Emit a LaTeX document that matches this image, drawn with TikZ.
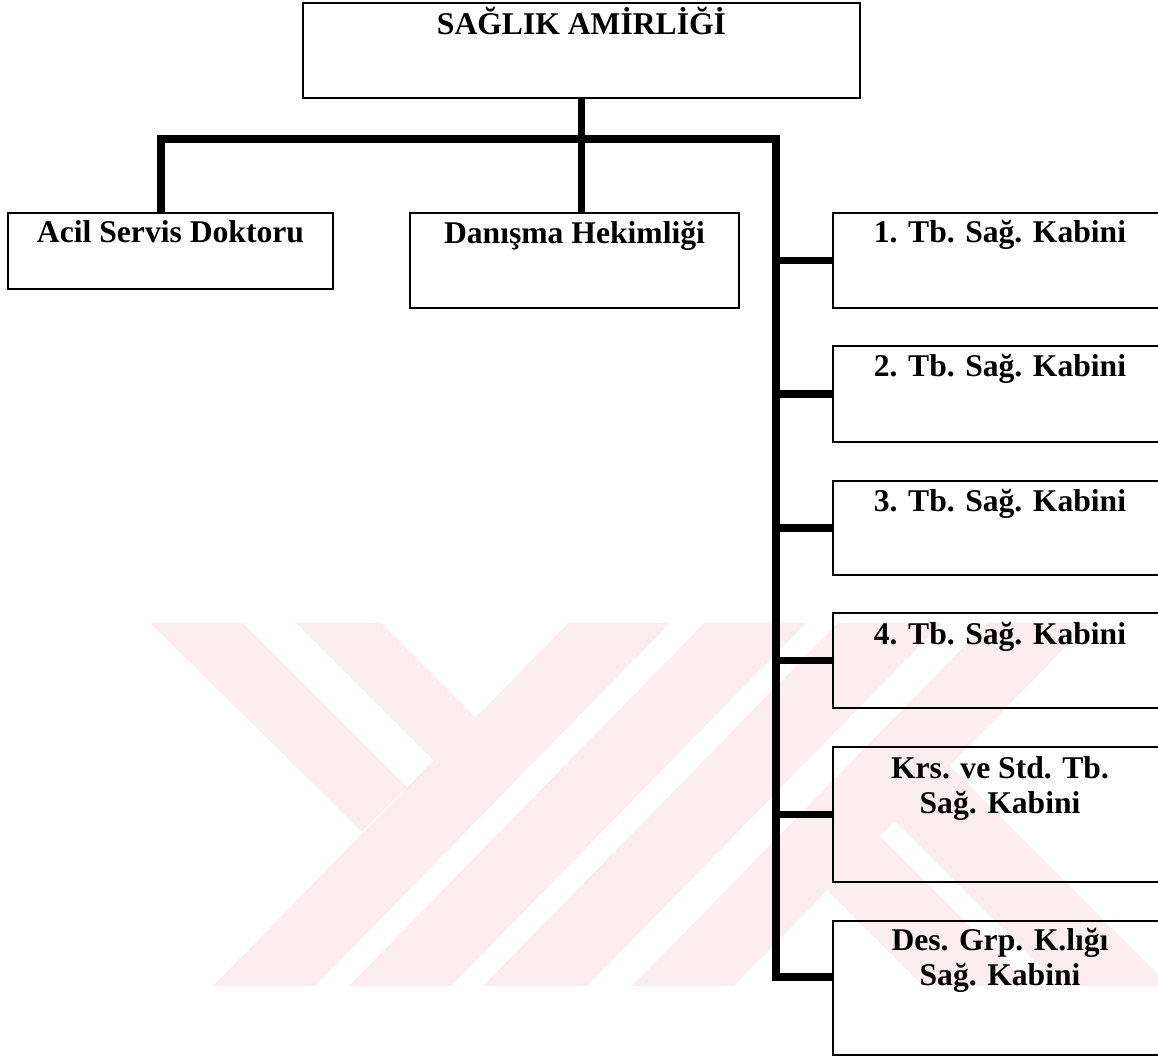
\documentclass[tikz,border=0pt]{standalone}
\usepackage{fontspec}
\setmainfont{Liberation Serif}
\definecolor{wmpink}{RGB}{252,237,240}
\tikzset{
  box/.style={draw, line width=1pt, inner sep=0pt},
  lbl/.style={font=\fontsize{18}{20}\selectfont\bfseries, anchor=base, align=center, inner sep=0pt},
  conn/.style={line width=4.5pt, line join=miter},
  wm/.style={fill=wmpink, draw=none}
}
\begin{document}
\begin{tikzpicture}[x=0.02cm,y=-0.02cm]
\useasboundingbox (0,0) rectangle (1158,1056);
% watermark
\fill[wm] (213,986) -- (315,986) -- (670,623) -- (568,623) -- cycle;
\fill[wm] (150,623) -- (243,623) -- (407,787) -- (362,832) -- cycle;
\fill[wm] (296,623) -- (381,623) -- (475.5,717.5) -- (433.5,760.5) -- cycle;
\fill[wm] (349,986) -- (451,986) -- (806,623) -- (704,623) -- cycle;
\fill[wm] (483,986) -- (587,986) -- (942,623) -- (838,623) -- cycle;
\fill[wm] (632,986) -- (734,986) -- (1089,623) -- (987,623) -- cycle;
\fill[wm] (827,890) -- (880,836) -- (1030,986) -- (923,986) -- cycle;
\fill[wm] (895,821) -- (949.5,765.5) -- (1158,974) -- (1158,986) -- (1060,986) -- cycle;
% boxes
\node[box, minimum width=11.14cm, minimum height=1.90cm] (amir) at (581.5,50.5) {};
\node[box, minimum width=6.50cm, minimum height=1.52cm] (acil) at (170.5,251) {};
\node[box, minimum width=6.58cm, minimum height=1.90cm] (danis) at (574.5,260.5) {};
\node[box, minimum width=6.68cm, minimum height=1.90cm] (tb1) at (1000,260.5) {};
\node[box, minimum width=6.68cm, minimum height=1.92cm] (tb2) at (1000,394) {};
\node[box, minimum width=6.68cm, minimum height=1.88cm] (tb3) at (1000,528) {};
\node[box, minimum width=6.68cm, minimum height=1.90cm] (tb4) at (1000,660.5) {};
\node[box, minimum width=6.68cm, minimum height=2.70cm] (krs) at (1000,814.5) {};
\node[box, minimum width=6.68cm, minimum height=2.68cm] (des) at (1000,988) {};
% texts
\node[lbl] (amirT) at ([yshift=-0.64cm]amir.north) {SAĞLIK AMİRLİĞİ};
\node[lbl] (acilT) at ([yshift=-0.60cm]acil.north) {Acil Servis Doktoru};
\node[lbl] (danisT) at ([yshift=-0.62cm]danis.north) {Danışma Hekimliği};
\node[lbl] (tb1T) at ([yshift=-0.60cm]tb1.north) {1. Tb. Sağ. Kabini};
\node[lbl] (tb2T) at ([yshift=-0.62cm]tb2.north) {2. Tb. Sağ. Kabini};
\node[lbl] (tb3T) at ([yshift=-0.62cm]tb3.north) {3. Tb. Sağ. Kabini};
\node[lbl] (tb4T) at ([yshift=-0.64cm]tb4.north) {4. Tb. Sağ. Kabini};
\node[lbl] (krsT) at ([yshift=-1.34cm]krs.north) {Krs. ve Std. Tb.\\Sağ. Kabini};
\node[lbl] (desT) at ([yshift=-1.31cm]des.north) {Des. Grp. K.lığı\\Sağ. Kabini};
% lines
\coordinate (lft) at (161,139);
\coordinate (rail) at (776,139);
\coordinate (railEnd) at (776,977);
\draw[conn] (amir.south) -- (amir.south |- danis.north);
\draw[conn] (lft |- acil.north) -- (lft) -- (rail) -- (railEnd) -- (railEnd -| des.west);
\foreach \b in {tb1,tb2,tb3,tb4,krs}
  \draw[conn] (rail |- \b.west) -- (\b.west);
\end{tikzpicture}
\end{document}
